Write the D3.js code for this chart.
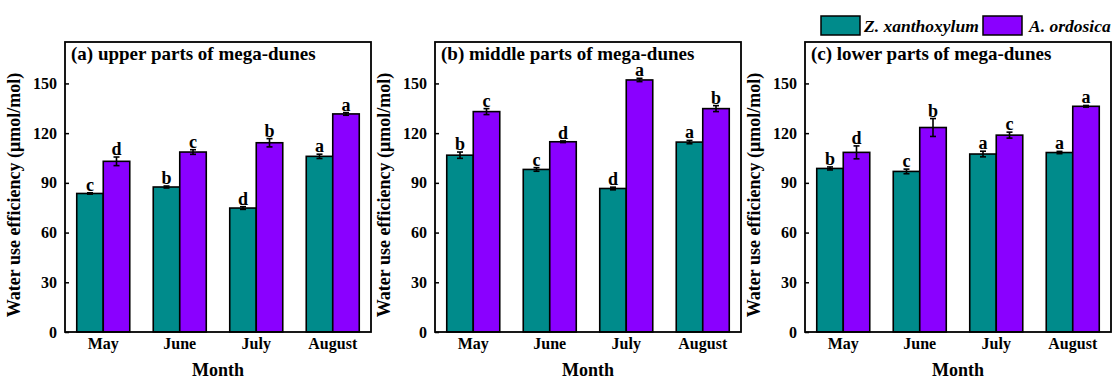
<!DOCTYPE html>
<html>
<head>
<meta charset="utf-8">
<script src="https://cdn.jsdelivr.net/npm/d3@7"></script>
<style>
  html, body { margin: 0; padding: 0; background: #fff; }
  svg { display: block; }
  text { font-family: "Liberation Serif", "Times New Roman", serif; font-weight: bold; fill: #000; }
</style>
</head>
<body>
<svg id="chart" width="1116" height="379"></svg>
<script>
// Months on the x axis and the two shrub species
const months = ["May", "June", "July", "August"];
const species = ["Z. xanthoxylum", "A. ordosica"];
const speciesColors = ["#008B8B", "#8A00FF"];
const yTicks = [0, 30, 60, 90, 120, 150];

// Panel titles
const panelTitles = [
  "(a) upper parts of mega-dunes",
  "(b) middle parts of mega-dunes",
  "(c) lower parts of mega-dunes"
];

// Mean WUE per month, per species (μmol/mol)
const upperZx = [83.6, 87.5, 74.8, 106.0];
const upperAo = [103.0, 108.6, 114.2, 131.6];
const middleZx = [106.7, 98.1, 86.6, 114.6];
const middleAo = [133.0, 114.8, 152.1, 134.8];
const lowerZx = [98.7, 96.9, 107.4, 108.3];
const lowerAo = [108.4, 123.4, 118.8, 136.2];

// Standard errors
const upperZxErr = [0.4, 0.6, 0.8, 1.3];
const upperAoErr = [2.6, 1.4, 2.5, 0.8];
const middleZxErr = [1.9, 1.1, 0.8, 1.0];
const middleAoErr = [1.8, 0.5, 1.0, 1.8];
const lowerZxErr = [0.9, 1.4, 1.7, 0.7];
const lowerAoErr = [3.9, 5.4, 1.8, 0.5];

// Significance letters
const upperZxSig = ["c", "b", "d", "a"];
const upperAoSig = ["d", "c", "b", "a"];
const middleZxSig = ["b", "c", "d", "a"];
const middleAoSig = ["c", "d", "a", "b"];
const lowerZxSig = ["b", "c", "a", "a"];
const lowerAoSig = ["d", "b", "c", "a"];

const panels = [
  { title: panelTitles[0], values: [upperZx, upperAo], errs: [upperZxErr, upperAoErr], sig: [upperZxSig, upperAoSig] },
  { title: panelTitles[1], values: [middleZx, middleAo], errs: [middleZxErr, middleAoErr], sig: [middleZxSig, middleAoSig] },
  { title: panelTitles[2], values: [lowerZx, lowerAo], errs: [lowerZxErr, lowerAoErr], sig: [lowerZxSig, lowerAoSig] }
];

const svg = d3.select("#chart");
const panelLefts = [65, 435, 805];
const plotW = 306;
const plotTop = 42, plotBottom = 332;

panels.forEach((p, i) => {
  const g = svg.append("g").attr("transform", `translate(${panelLefts[i]},0)`);

  const x = d3.scaleBand().domain(months).range([0, plotW])
    .paddingInner(0.307).paddingOuter(0.1535);
  const x1 = d3.scaleBand().domain(species).range([0, x.bandwidth()]).padding(0);
  const y = d3.scaleLinear().domain([0, 175]).range([plotBottom, plotTop]);

  // bars
  species.forEach((s, si) => {
    const grp = g.append("g");
    months.forEach((m, mi) => {
      const v = p.values[si][mi];
      const e = p.errs[si][mi];
      const bx = x(m) + x1(s);
      const bw = x1.bandwidth();
      grp.append("rect")
        .attr("x", bx).attr("y", y(v))
        .attr("width", bw).attr("height", y(0) - y(v))
        .attr("fill", speciesColors[si])
        .attr("stroke", "#000").attr("stroke-width", 1.6);
      const cx = bx + bw / 2;
      // error bar
      grp.append("line").attr("x1", cx).attr("x2", cx)
        .attr("y1", y(v - e)).attr("y2", y(v + e))
        .attr("stroke", "#000").attr("stroke-width", 1.6);
      [v - e, v + e].forEach(t => {
        grp.append("line").attr("x1", cx - 3).attr("x2", cx + 3)
          .attr("y1", y(t)).attr("y2", y(t))
          .attr("stroke", "#000").attr("stroke-width", 1.6);
      });
      // significance letter
      grp.append("text")
        .attr("x", cx).attr("y", y(v + e) - 2)
        .attr("text-anchor", "middle")
        .attr("font-size", 18)
        .text(p.sig[si][mi]);
    });
  });

  // y axis
  const yAxis = d3.axisLeft(y).tickValues(yTicks).tickSize(-4).tickPadding(8);
  const ya = g.append("g").call(yAxis);
  ya.select(".domain").remove();
  ya.selectAll(".tick line").attr("stroke", "#000").attr("stroke-width", 1.5);
  ya.selectAll(".tick text").attr("font-size", 16).attr("font-family", "Liberation Serif").attr("font-weight", "bold").attr("fill", "#000");

  // x axis labels
  const xAxis = d3.axisBottom(x).tickSize(0).tickPadding(6);
  const xa = g.append("g").attr("transform", `translate(0,${plotBottom})`).call(xAxis);
  xa.select(".domain").remove();
  xa.selectAll(".tick text").attr("font-size", 16).attr("font-family", "Liberation Serif").attr("font-weight", "bold").attr("fill", "#000");

  // frame
  g.append("rect").attr("x", 0).attr("y", plotTop).attr("width", plotW).attr("height", plotBottom - plotTop)
    .attr("fill", "none").attr("stroke", "#000").attr("stroke-width", 1.8);

  // panel title
  g.append("text").attr("x", 6).attr("y", 60).attr("font-size", 19).text(p.title);

  // axis titles
  g.append("text").attr("x", plotW / 2).attr("y", 376).attr("text-anchor", "middle")
    .attr("font-size", 18).text("Month");
  g.append("text")
    .attr("transform", `translate(-45,${(plotTop + plotBottom) / 2 + 8}) rotate(-90)`)
    .attr("text-anchor", "middle").attr("font-size", 18)
    .text("Water use efficiency (μmol/mol)");
});

// legend
const legend = svg.append("g");
const legendItems = [
  { x: 821, tx: 864 },
  { x: 983, tx: 1029 }
];
species.forEach((s, si) => {
  legend.append("rect").attr("x", legendItems[si].x).attr("y", 16)
    .attr("width", 39).attr("height", 19)
    .attr("fill", speciesColors[si]).attr("stroke", "#000").attr("stroke-width", 1.5);
  legend.append("text").attr("x", legendItems[si].tx).attr("y", 32)
    .attr("font-size", 17.5).attr("font-style", "italic").text(s);
});
</script>
</body>
</html>
